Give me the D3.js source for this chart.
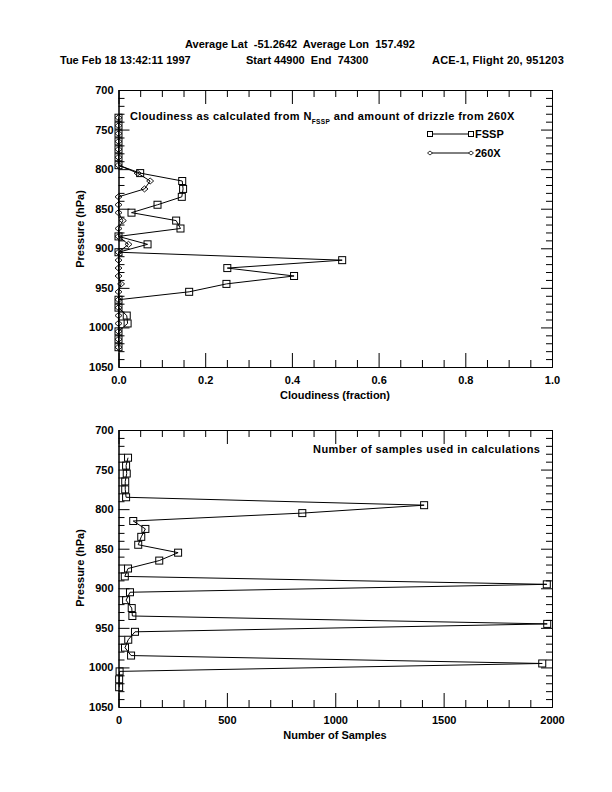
<!DOCTYPE html>
<html><head><meta charset="utf-8">
<script src="https://cdn.jsdelivr.net/npm/d3@7"></script>
<style>
body{margin:0;background:#fff;}
svg text{font-family:"Liberation Sans",Arial,Helvetica,sans-serif;font-size:11px;font-weight:bold;fill:#000;white-space:pre;}
</style></head>
<body><svg id="c" width="612" height="792"></svg>
<script>
// ---- data ----
const pressure = [735,745,755,765,775,785,795,805,815,825,835,845,855,865,875,885,895,905,915,925,935,945,955,965,975,985,995,1005,1015,1025];
const fsspCloud = [0,0,0,0,0,0,0,0.050,0.147,0.149,0.146,0.090,0.030,0.133,0.143,0,0.067,0,0.516,0.251,0.405,0.249,0.163,0,0,0.019,0.021,0,0,0];
const x260Cloud = [0,0,0,0,0,0,0,0.044,0.073,0.060,0,0,0,0.010,0,0,0.023,0,0,0,0,0.006,0,0,0,0,0,0,0,0];
const nSamples = [44,35,38,31,31,35,1410,848,68,124,105,91,275,188,44,29,1976,53,35,61,64,1978,76,45,30,58,1955,5,3,3];
const pTicks = [700,750,800,850,900,950,1000,1050];
const cloudTicks = [0,0.2,0.4,0.6,0.8,1.0];
const cloudTickLabels = ["0.0","0.2","0.4","0.6","0.8","1.0"];
const sampleTicks = [0,500,1000,1500,2000];
const headerLine1 = "Average Lat  -51.2642  Average Lon  157.492";
const headerDate = "Tue Feb 18 13:42:11 1997";
const headerRange = "Start 44900  End  74300";
const headerFlight = "ACE-1, Flight 20, 951203";

const svg = d3.select("#c");
const X0 = 118.5, X1 = 552;
const FONT = '"Liberation Sans",Arial,sans-serif';

function frame(yTop, yBot, xDomain, xMajor, xMinorStep, xFmt){
  const x = d3.scaleLinear().domain(xDomain).range([X0,X1]);
  const y = d3.scaleLinear().domain([700,1050]).range([yTop,yBot]);
  const g = svg.append("g");
  const minorX = d3.range(xDomain[0], xDomain[1]+1e-9, xMinorStep).filter(v=>!xMajor.some(m=>Math.abs(m-v)<1e-9));
  const minorY = d3.range(700,1051,10).filter(v=>v%50!==0);
  g.append("g").attr("transform",`translate(0,${yBot})`)
   .call(d3.axisBottom(x).tickValues(xMajor).tickSizeInner(-14).tickSizeOuter(0).tickPadding(9).tickFormat(xFmt));
  g.append("g").attr("transform",`translate(0,${yBot})`)
   .call(d3.axisBottom(x).tickValues(minorX).tickSizeInner(-7).tickSizeOuter(0).tickFormat(""));
  g.append("g").attr("transform",`translate(0,${yTop})`)
   .call(d3.axisTop(x).tickValues(xMajor).tickSizeInner(-14).tickSizeOuter(0).tickFormat(""));
  g.append("g").attr("transform",`translate(0,${yTop})`)
   .call(d3.axisTop(x).tickValues(minorX).tickSizeInner(-7).tickSizeOuter(0).tickFormat(""));
  g.append("g").attr("transform",`translate(${X0},0)`)
   .call(d3.axisLeft(y).tickValues(pTicks).tickSizeInner(-11).tickSizeOuter(0).tickPadding(5).tickFormat(d3.format("d")));
  g.append("g").attr("transform",`translate(${X0},0)`)
   .call(d3.axisLeft(y).tickValues(minorY).tickSizeInner(-6).tickSizeOuter(0).tickFormat(""));
  g.append("g").attr("transform",`translate(${X1},0)`)
   .call(d3.axisRight(y).tickValues(pTicks).tickSizeInner(-11).tickSizeOuter(0).tickFormat(""));
  g.append("g").attr("transform",`translate(${X1},0)`)
   .call(d3.axisRight(y).tickValues(minorY).tickSizeInner(-6).tickSizeOuter(0).tickFormat(""));
  g.selectAll("path.domain").attr("stroke","#000").attr("stroke-width",1);
  g.selectAll(".tick line").attr("stroke","#000");
  g.selectAll("text").attr("font-size","11px").attr("font-family",FONT).attr("font-weight","bold");
  return {x,y,g};
}

function series(sc, vals, shape){
  const pts = pressure.map((p,i)=>[sc.x(vals[i]), sc.y(p)]);
  svg.append("path").attr("d", d3.line()(pts)).attr("fill","none").attr("stroke","#000").attr("stroke-width",1);
  pts.forEach(([px,py])=>{
    if(shape==="square"){
      svg.append("rect").attr("x",px-3.5).attr("y",py-3.5).attr("width",7).attr("height",7)
        .attr("fill","none").attr("stroke","#000").attr("stroke-width",1);
    } else {
      svg.append("path").attr("d",`M${px-3.5},${py}L${px},${py-3}L${px+3.5},${py}L${px},${py+3}Z`)
        .attr("fill","none").attr("stroke","#000").attr("stroke-width",0.9);
    }
  });
}

svg.append("text").attr("x",300).attr("y",48).attr("text-anchor","middle").text(headerLine1);
svg.append("text").attr("x",60).attr("y",64).text(headerDate);
svg.append("text").attr("x",246).attr("y",64).text(headerRange);
svg.append("text").attr("x",432).attr("y",64).attr("letter-spacing",0.2).text(headerFlight);

const topPlot = frame(90, 367, [0,1], cloudTicks, 0.05, (d,i)=>cloudTickLabels[i]);
series(topPlot, fsspCloud, "square");
series(topPlot, x260Cloud, "diamond");
svg.append("text").attr("x",335).attr("y",399).attr("text-anchor","middle").text("Cloudiness (fraction)");
svg.append("text").attr("transform","translate(84,229) rotate(-90)").attr("text-anchor","middle").text("Pressure (hPa)");
const tt = svg.append("text").attr("x",130).attr("y",120).attr("letter-spacing",0.38);
tt.append("tspan").text("Cloudiness as calculated from N");
tt.append("tspan").attr("font-size","6.5px").attr("dy",4).text("FSSP");
tt.append("tspan").attr("dy",-4).text(" and amount of drizzle from 260X");
const legend = [{name:"FSSP",shape:"square",y:134},{name:"260X",shape:"diamond",y:153}];
legend.forEach(l=>{
  svg.append("line").attr("x1",430).attr("x2",471).attr("y1",l.y).attr("y2",l.y).attr("stroke","#000");
  [430,471].forEach(px=>{
    if(l.shape==="square") svg.append("rect").attr("x",px-2.5).attr("y",l.y-2.5).attr("width",5).attr("height",5).attr("fill","#fff").attr("stroke","#000");
    else svg.append("path").attr("d",`M${px-2.5},${l.y}L${px},${l.y-2}L${px+2.5},${l.y}L${px},${l.y+2}Z`).attr("fill","#fff").attr("stroke","#000").attr("stroke-width",0.8);
  });
  svg.append("text").attr("x",475).attr("y",l.y+4).text(l.name);
});

const botPlot = frame(430, 707, [0,2000], sampleTicks, 100, d3.format("d"));
series(botPlot, nSamples, "square");
svg.append("text").attr("x",335).attr("y",739).attr("text-anchor","middle").text("Number of Samples");
svg.append("text").attr("transform","translate(84,568) rotate(-90)").attr("text-anchor","middle").text("Pressure (hPa)");
svg.append("text").attr("x",313).attr("y",453).attr("letter-spacing",0.45).text("Number of samples used in calculations");
</script></body></html>
